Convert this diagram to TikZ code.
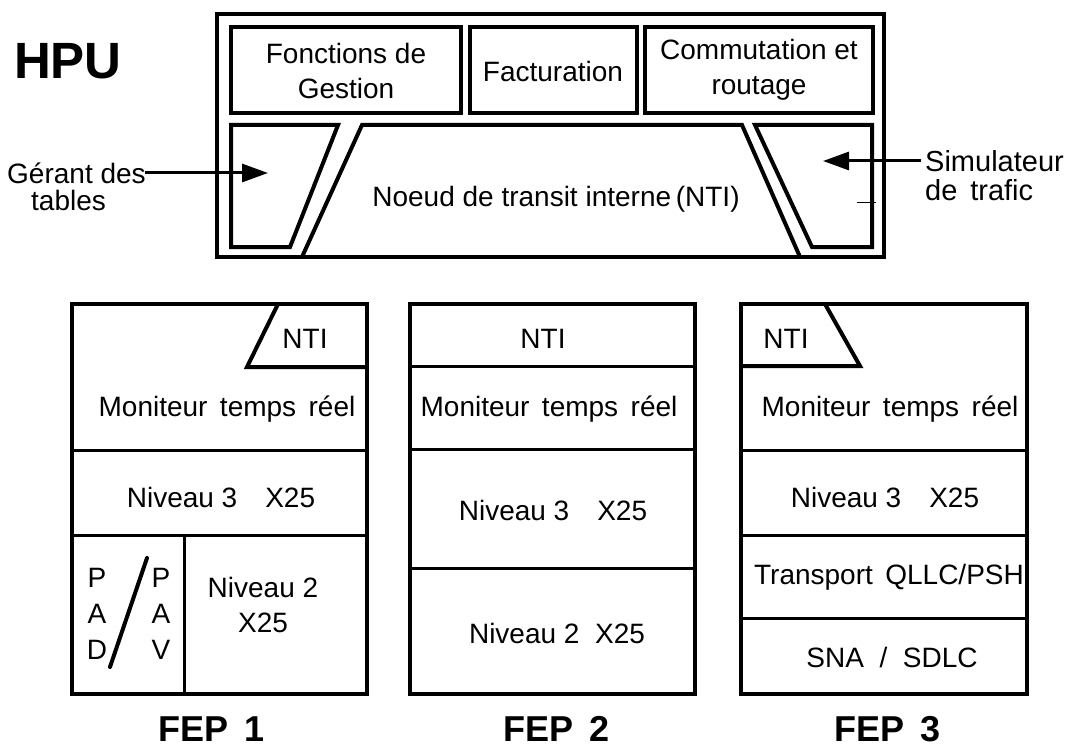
\documentclass[tikz,border=0pt]{standalone}
\usepackage{fontspec}
\setmainfont{Liberation Sans}
\usetikzlibrary{arrows.meta}
\tikzset{
  thick frame/.style={line width=4pt, line join=miter},
  divider/.style={line width=3pt},
  lbl/.style={inner sep=0pt, font=\fontsize{28}{35}\selectfont, align=center},
  lblL/.style={inner sep=0pt, font=\fontsize{28}{31}\selectfont, align=left},
  lblS/.style={inner sep=0pt, font=\fontsize{29}{31}\selectfont, align=left},
  title/.style={inner sep=0pt, font=\fontsize{51}{51}\selectfont\bfseries},
  feptitle/.style={inner sep=0pt, font=\fontsize{36}{36}\selectfont\bfseries},
  arr/.style={line width=3pt, -{Triangle[length=26pt,width=18pt]}},
}
\begin{document}
\begin{tikzpicture}[x=1pt,y=-1pt]
\useasboundingbox (0,0) rectangle (1074,749);
\fill[white] (0,0) rectangle (1074,749);

% ---------------- HPU ----------------
\node[title] (hpu) at (68,61) {HPU};
\draw[thick frame] (217,14) rectangle (884,257);
\draw[thick frame] (231,27) rectangle (461,113);
\draw[thick frame] (470,27) rectangle (637,113);
\draw[thick frame] (645,27) rectangle (873,113);
\node[lbl] (gest) at (346,71) {Fonctions de\\Gestion};
\node[lbl] (fact) at (553,71) {Facturation};
\node[lbl] (comm) at (759,70) {Commutation et\\routage};
% left trapezoid (Gerant des tables)
\draw[thick frame] (231,125) -- (338,125) -- (290,247) -- (231,247) -- cycle;
% central NTI
\draw[thick frame] (302,257) -- (362,125) -- (742,125) -- (800,257);
\node[lbl] (nti) at (556,199) {Noeud de transit interne\,(NTI)};
% right trapezoid (Simulateur)
\draw[thick frame] (755,125) -- (872,125) -- (872,247) -- (812,247) -- cycle;
\draw[line width=1pt] (857,202) -- (876,202);

\node[lblL, anchor=west] (gerant) at (7,187) {Gérant des\\[-4pt]\hspace*{24pt}tables};
\coordinate (gstart) at (145,173);
\coordinate (gtip) at (268,173);
\draw[arr] (gstart) -- (gtip);

\node[lblS, anchor=west] (simu) at (925,176) {Simulateur\\[-2pt]de\, trafic};
\coordinate (sstart) at (921,161);
\coordinate (stip) at (823,161);
\draw[arr] (sstart) -- (stip);

% ---------------- FEP 1 ----------------
\draw[thick frame] (72,304) rectangle (367,694);
\draw[thick frame] (278,304) -- (247,367) -- (367,367);
\draw[divider] (72,450) -- (367,450);
\draw[divider] (72,535) -- (367,535);
\draw[divider] (184,535) -- (184,694);
\draw[line width=4pt, line cap=round] (110,667) -- (147,558);
\node[lbl] (f1nti) at (305,339) {NTI};
\node[lbl] (f1mon) at (227,409) {Moniteur\, temps\, réel};
\node[lbl] (f1n3) at (221,497) {Niveau 3\quad X25};
\node[lbl] (f1p1) at (97,578) {P};
\node[lbl] (f1a1) at (97,614) {A};
\node[lbl] (f1d) at (97,650) {D};
\node[lbl] (f1p2) at (161,578) {P};
\node[lbl] (f1a2) at (161,614) {A};
\node[lbl] (f1v) at (161,650) {V};
\node[lbl] (f1n2) at (263,605) {Niveau 2\\X25};
\node[feptitle] (fep1) at (212,729) {FEP\, 1};

% ---------------- FEP 2 ----------------
\draw[thick frame] (410,304) rectangle (695,694);
\draw[divider] (410,366) -- (695,366);
\draw[divider] (410,449) -- (695,449);
\draw[divider] (410,568) -- (695,568);
\node[lbl] (f2nti) at (543,339) {NTI};
\node[lbl] (f2mon) at (549,409) {Moniteur\, temps\, réel};
\node[lbl] (f2n3) at (553,510) {Niveau 3\quad X25};
\node[lbl] (f2n2) at (557,633) {Niveau 2\; X25};
\node[feptitle] (fep2) at (557,729) {FEP\, 2};

% ---------------- FEP 3 ----------------
\draw[thick frame] (741,304) rectangle (1027,694);
\draw[thick frame] (741,366) -- (860,366) -- (825,304);
\draw[divider] (741,450) -- (1027,450);
\draw[divider] (741,535) -- (1027,535);
\draw[divider] (741,618) -- (1027,618);
\node[lbl] (f3nti) at (786,339) {NTI};
\node[lbl] (f3mon) at (890,409) {Moniteur\, temps\, réel};
\node[lbl] (f3tr) at (889,577) {Transport\, QLLC/PSH};
\node[lbl] (f3n3) at (885,497) {Niveau 3\quad X25};
\node[lbl] (f3sna) at (892,657) {SNA\; /\; SDLC};
\node[feptitle] (fep3) at (888,729) {FEP\, 3};
\end{tikzpicture}
\end{document}
